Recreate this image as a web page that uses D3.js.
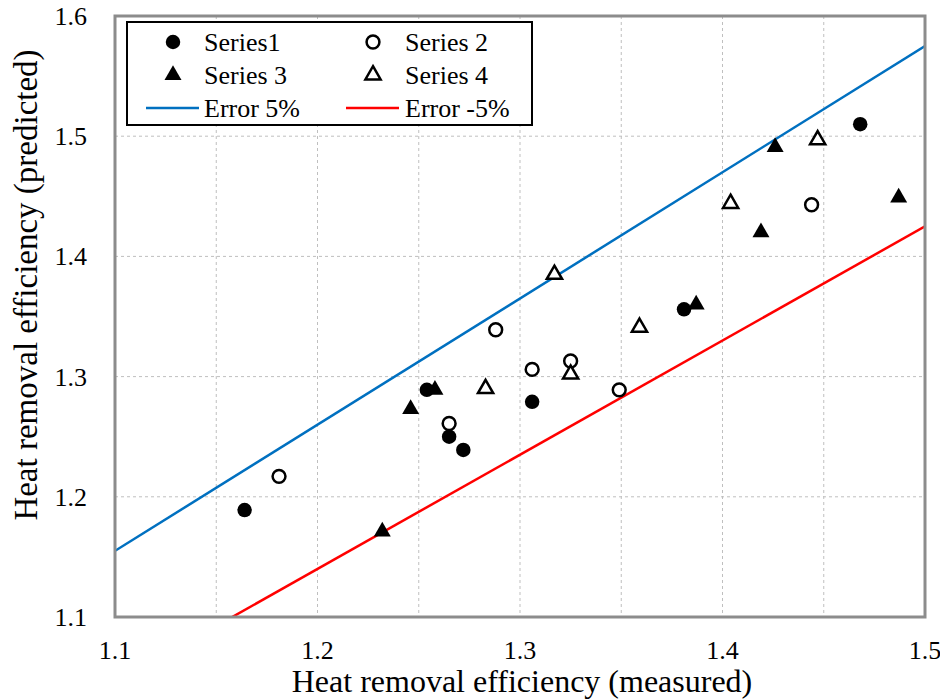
<!DOCTYPE html>
<html>
<head>
<meta charset="utf-8">
<script src="https://cdn.jsdelivr.net/npm/d3@7"></script>
<style>
  body { margin: 0; background: #fff; }
</style>
</head>
<body>
<div id="chart"></div>
<script>
// data
const s1x = [1.164, 1.254, 1.265, 1.272, 1.306, 1.381, 1.468];
const s1y = [1.189, 1.289, 1.250, 1.239, 1.279, 1.356, 1.510];
const s2x = [1.181, 1.265, 1.288, 1.306, 1.325, 1.349, 1.444];
const s2y = [1.217, 1.261, 1.339, 1.306, 1.313, 1.289, 1.443];
const s3x = [1.232, 1.246, 1.258, 1.387, 1.419, 1.426, 1.487];
const s3y = [1.171, 1.273, 1.289, 1.360, 1.420, 1.491, 1.449];
const s4x = [1.283, 1.317, 1.325, 1.359, 1.404, 1.447];
const s4y = [1.290, 1.385, 1.302, 1.341, 1.444, 1.497];
const errFactors = [1.05, 0.95];
const errLabels = ["Error 5%", "Error -5%"];
const xTicks = [1.1, 1.2, 1.3, 1.4, 1.5];
const yTicks = [1.1, 1.2, 1.3, 1.4, 1.5, 1.6];
const xGrid = [1.15, 1.2, 1.25, 1.3, 1.35, 1.4, 1.45];
const yGrid = [1.2, 1.3, 1.4, 1.5];

const W = 940, H = 699;
const pLeft = 115, pRight = 925, pTop = 16, pBottom = 617;

const svg = d3.select("#chart").append("svg")
  .attr("width", W).attr("height", H)
  .attr("font-family", "Liberation Serif");

const x = d3.scaleLinear().domain([1.1, 1.5]).range([pLeft, pRight]);
const y = d3.scaleLinear().domain([1.1, 1.6]).range([pBottom, pTop]);

svg.append("clipPath").attr("id", "clip")
  .append("rect").attr("x", pLeft).attr("y", pTop)
  .attr("width", pRight - pLeft).attr("height", pBottom - pTop);

// grid
svg.selectAll(".vg").data(xGrid).enter().append("line")
  .attr("x1", d => x(d)).attr("x2", d => x(d))
  .attr("y1", pTop).attr("y2", pBottom)
  .attr("stroke", "#bfbfbf").attr("stroke-dasharray", "3,3");
svg.selectAll(".hg").data(yGrid).enter().append("line")
  .attr("x1", pLeft).attr("x2", pRight)
  .attr("y1", d => y(d)).attr("y2", d => y(d))
  .attr("stroke", "#bfbfbf").attr("stroke-dasharray", "3,3");

// error lines
const errColors = ["#0070c0", "#ff0000"];
const line = d3.line().x(d => x(d[0])).y(d => y(d[1]));
errFactors.forEach((f, i) => {
  svg.append("path")
    .attr("clip-path", "url(#clip)")
    .attr("d", line([[1.0, 1.0 * f], [1.5, 1.5 * f]]))
    .attr("fill", "none").attr("stroke", errColors[i]).attr("stroke-width", 2.5);
});

// markers
const circ = d3.symbol().type(d3.symbolCircle).size(165);
const circO = d3.symbol().type(d3.symbolCircle).size(130);
const tri = d3.symbol().type(d3.symbolTriangle).size(125);
const triO = d3.symbol().type(d3.symbolTriangle).size(100);

function drawSeries(xs, ys, sym, filled) {
  svg.append("g").selectAll("path").data(xs).enter().append("path")
    .attr("d", sym)
    .attr("transform", (d, i) => `translate(${x(d)},${y(ys[i])})`)
    .attr("fill", filled ? "#000" : "#fff")
    .attr("stroke", "#000")
    .attr("stroke-width", filled ? 0 : 2.5);
}
drawSeries(s1x, s1y, circ, true);
drawSeries(s2x, s2y, circO, false);
drawSeries(s3x, s3y, tri, true);
drawSeries(s4x, s4y, triO, false);

// frame
svg.append("rect").attr("x", pLeft).attr("y", pTop)
  .attr("width", pRight - pLeft).attr("height", pBottom - pTop)
  .attr("fill", "none").attr("stroke", "#8c8c8c").attr("stroke-width", 3);

// tick labels
svg.selectAll(".xt").data(xTicks).enter().append("text")
  .attr("x", d => x(d)).attr("y", 659)
  .attr("text-anchor", "middle").attr("font-size", 26)
  .text(d => d.toFixed(1));
svg.selectAll(".yt").data(yTicks).enter().append("text")
  .attr("x", 87).attr("y", d => y(d) + 9)
  .attr("text-anchor", "end").attr("font-size", 26)
  .text(d => d.toFixed(1));

// axis titles
svg.append("text").attr("x", 522).attr("y", 692)
  .attr("text-anchor", "middle").attr("font-size", 32)
  .text("Heat removal efficiency (measured)");
svg.append("text")
  .attr("transform", "translate(37,285) rotate(-90)")
  .attr("text-anchor", "middle").attr("font-size", 33)
  .text("Heat removal efficiency (predicted)");

// legend
const lg = svg.append("g");
lg.append("rect").attr("x", 127).attr("y", 22).attr("width", 405).attr("height", 103)
  .attr("fill", "#fff").attr("stroke", "#000").attr("stroke-width", 2);
const legItems = [
  {label: "Series1", sym: circ, filled: true, col: 0, row: 0},
  {label: "Series 2", sym: circO, filled: false, col: 1, row: 0},
  {label: "Series 3", sym: tri, filled: true, col: 0, row: 1},
  {label: "Series 4", sym: triO, filled: false, col: 1, row: 1}
];
const colX = [173, 373], textX = [204, 405], rowY = [42, 75, 108];
legItems.forEach(d => {
  lg.append("path").attr("d", d.sym)
    .attr("transform", `translate(${colX[d.col]},${rowY[d.row]})`)
    .attr("fill", d.filled ? "#000" : "#fff").attr("stroke", "#000")
    .attr("stroke-width", d.filled ? 0 : 2.5);
  lg.append("text").attr("x", textX[d.col]).attr("y", rowY[d.row] + 9)
    .attr("font-size", 26).text(d.label);
});
errLabels.forEach((l, i) => {
  lg.append("line").attr("x1", colX[i] - 27).attr("x2", colX[i] + 26)
    .attr("y1", rowY[2]).attr("y2", rowY[2])
    .attr("stroke", errColors[i]).attr("stroke-width", 2.5);
  lg.append("text").attr("x", textX[i]).attr("y", rowY[2] + 9)
    .attr("font-size", 26).text(l);
});
</script>
</body>
</html>
